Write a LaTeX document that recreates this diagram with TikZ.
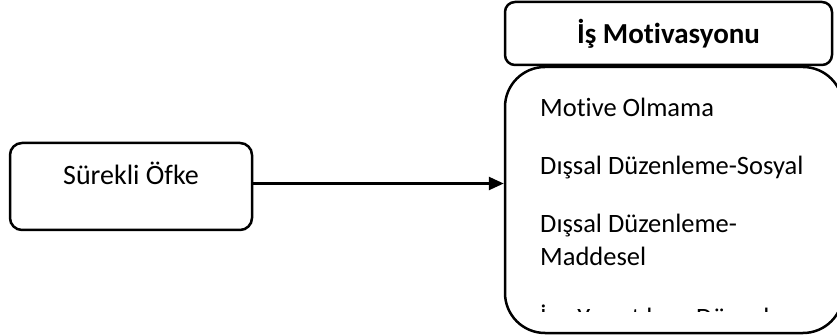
\documentclass[tikz,border=0pt]{standalone}
\usepackage{fontspec}
\setmainfont{Carlito}[Ligatures=NoCommon]
\usetikzlibrary{positioning, arrows.meta}
\begin{document}
\begin{tikzpicture}[x=1pt,y=-1pt,kutu/.style={draw, line width=2.5pt, rounded corners=12pt, inner sep=0pt, font=\fontsize{28}{33}\selectfont},madde/.style={anchor=base west, inner sep=0pt, font=\fontsize{26.5}{31}\selectfont},ok/.style={-{Triangle[length=15pt, width=13pt]}, line width=2.5pt}]
\useasboundingbox (0,0) rectangle (837,336);
\node[kutu, minimum width=242pt, minimum height=87pt, text height=20pt, text depth=24pt] (ofke) at (131,186.5) {Sürekli Öfke};
\node[kutu, rounded corners=10pt, minimum width=327pt, minimum height=63pt, font=\bfseries\fontsize{29}{34}\selectfont] (baslik) at (668.5,33.5) {İş Motivasyonu};
\node[kutu, rounded corners=40pt, minimum width=338pt, minimum height=266pt] (motiv) at (674,200) {};
\node[madde] (m1) at (540,117) {Motive Olmama};
\node[madde] (m2) at (540,175) {Dışsal Düzenleme-Sosyal};
\node[madde] (m3) at (540,233) {Dışsal Düzenleme-};
\node[madde] (m4) at (540,266) {Maddesel};
\begin{scope}
\clip (505,68) rectangle (837,311);
\node[madde] (m5) at (540,326.5) {İçe Yansıtılmış Düzenleme};
\end{scope}
\draw[ok] ([yshift=3pt]ofke.east) -- ([yshift=3pt]ofke.east -| motiv.west);
\end{tikzpicture}
\end{document}
